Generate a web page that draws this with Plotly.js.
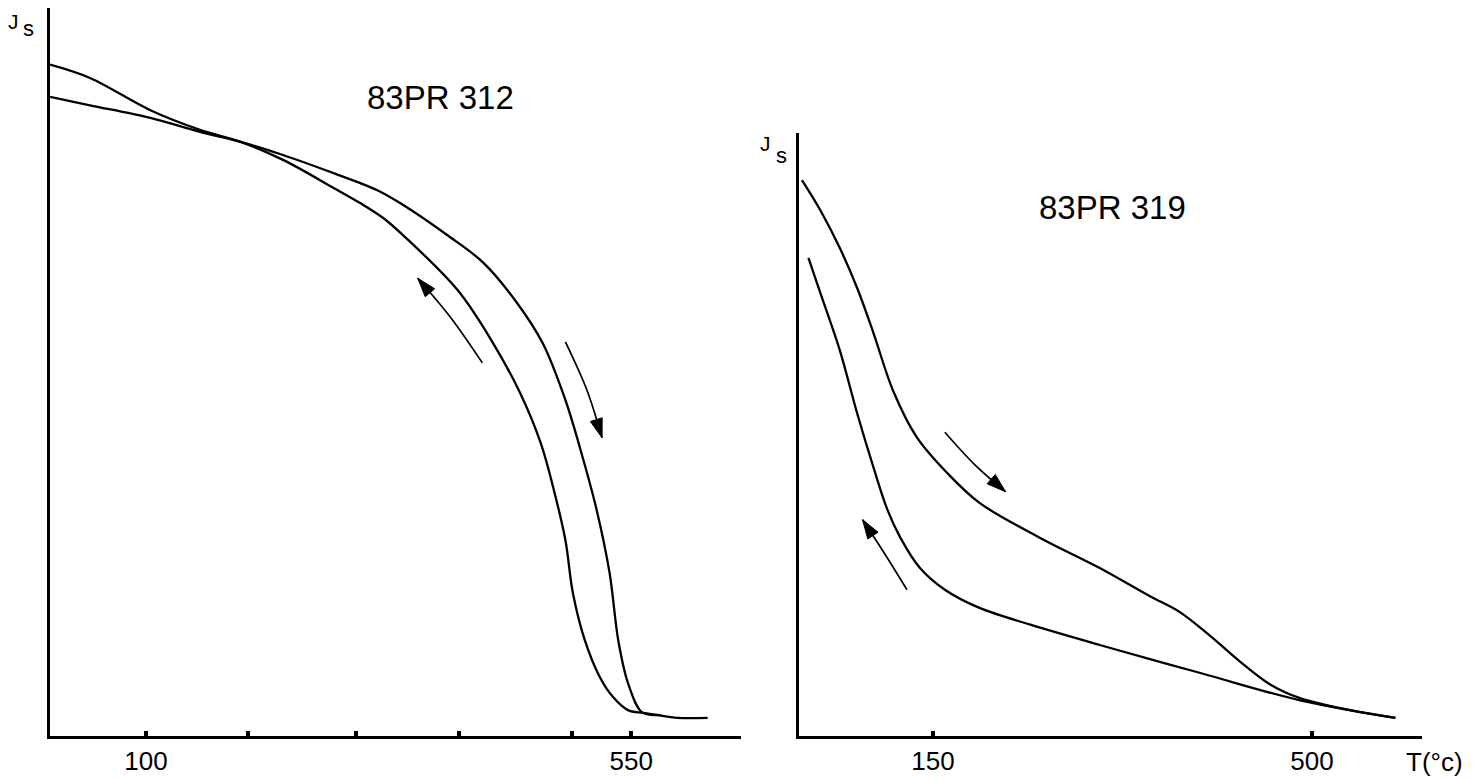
<!DOCTYPE html>
<html>
<head>
<meta charset="utf-8">
<script src="https://cdn.plot.ly/plotly-3.0.1.min.js"></script>
<style>html,body{margin:0;padding:0;background:#fff;}#chart{width:1482px;height:780px;}</style>
</head>
<body>
<div id="chart"></div>
<script>
// ---- Panel 1: 83PR 312 (T in °C, Js arbitrary units) ----
const p1_curveA_T  = [11, 48, 104, 150, 187, 227, 274, 299, 320, 338, 389, 422, 447, 466, 479, 489, 496, 507, 521, 533, 547, 561, 574, 593, 621];
const p1_curveA_Js = [95.9, 94.0, 89.4, 86.6, 84.9, 82.3, 78.3, 76.1, 74.0, 71.6, 63.7, 56.1, 49.0, 41.9, 34.7, 28.0, 20.4, 13.7, 8.4, 5.6, 3.7, 3.3, 3.0, 2.6, 2.6];
const p1_curveB_T  = [11, 48, 104, 150, 187, 227, 274, 314, 336, 379, 413, 444, 468, 489, 503, 518, 530, 538, 547, 560, 574];
const p1_curveB_Js = [91.3, 90.1, 88.3, 86.3, 84.9, 83.0, 80.4, 78.0, 76.1, 71.6, 67.6, 61.9, 56.1, 48.0, 40.9, 32.3, 23.3, 13.7, 7.6, 3.4, 3.0];
const p1_arrowCool_T  = [412, 382, 352];
const p1_arrowCool_Js = [53.3, 59.9, 65.4];
const p1_arrowHeat_T  = [489, 509, 523];
const p1_arrowHeat_Js = [56.3, 49.4, 42.6];
const p1_tickVals = [100, 195, 295, 390, 495, 550];
const p1_tickText = ["100", "", "", "", "", "550"];

// ---- Panel 2: 83PR 319 ----
const p2_curveC_T  = [29, 46, 64, 80, 95, 113, 135, 163, 193, 249, 304, 350, 378, 406, 433, 461, 489, 535, 577];
const p2_curveC_Js = [79.4, 75.1, 69.7, 64.0, 57.6, 49.4, 42.7, 37.6, 33.3, 28.3, 24.0, 20.0, 17.7, 14.3, 10.7, 7.4, 5.4, 3.7, 2.6];
const p2_curveD_T  = [35, 46, 64, 80, 95, 108, 120, 138, 161, 193, 240, 304, 397, 489, 577];
const p2_curveD_Js = [68.3, 63.3, 55.1, 46.1, 38.4, 32.3, 28.3, 24.0, 20.9, 18.3, 15.9, 13.0, 9.0, 5.1, 2.6];
const p2_arrowHeat_T  = [161, 189, 217];
const p2_arrowHeat_Js = [43.4, 38.7, 34.9];
const p2_arrowCool_T  = [126, 106, 85];
const p2_arrowCool_Js = [20.9, 25.9, 30.9];
const p2_tickVals = [150, 500];
const p2_tickText = ["150", "500"];

const FONT = "Liberation Sans, Arial, Helvetica, sans-serif";

function curve(x, y, xa, ya) {
  return {x: x, y: y, xaxis: xa, yaxis: ya, mode: "lines", type: "scatter",
          line: {color: "#000", width: 2.3, shape: "spline", smoothing: 1},
          hoverinfo: "skip", showlegend: false, cliponaxis: false};
}
function arrow(x, y, xa, ya) {
  const sizes = x.map((_, i) => i === x.length - 1 ? 20 : 0);
  return {x: x, y: y, xaxis: xa, yaxis: ya, mode: "lines+markers", type: "scatter",
          line: {color: "#000", width: 1.7, shape: "spline"},
          marker: {symbol: "arrow", angleref: "previous", size: sizes, color: "#000",
                   opacity: 1, line: {width: 1, color: "#000"}},
          hoverinfo: "skip", showlegend: false, cliponaxis: false};
}

const data = [
  curve(p1_curveA_T, p1_curveA_Js, "x", "y"),
  curve(p1_curveB_T, p1_curveB_Js, "x", "y"),
  arrow(p1_arrowCool_T, p1_arrowCool_Js, "x", "y"),
  arrow(p1_arrowHeat_T, p1_arrowHeat_Js, "x", "y"),
  curve(p2_curveC_T, p2_curveC_Js, "x2", "y2"),
  curve(p2_curveD_T, p2_curveD_Js, "x2", "y2"),
  arrow(p2_arrowHeat_T, p2_arrowHeat_Js, "x2", "y2"),
  arrow(p2_arrowCool_T, p2_arrowCool_Js, "x2", "y2")
];

const W = 1482, H = 780;
const axisCommon = {showgrid: false, zeroline: false, showline: true, linecolor: "#000",
                    tickfont: {family: FONT, size: 26, color: "#000"}};

function label(text, px, py, size) {
  return {text: text, xref: "paper", yref: "paper", x: px / W, y: 1 - py / H,
          xanchor: "center", yanchor: "middle", showarrow: false,
          font: {family: FONT, size: size, color: "#000"}};
}

const layout = {
  width: W, height: H,
  margin: {l: 0, r: 0, t: 0, b: 0},
  paper_bgcolor: "#fff", plot_bgcolor: "rgba(0,0,0,0)",
  font: {family: FONT, color: "#000"},
  showlegend: false,
  xaxis: Object.assign({}, axisCommon, {
    domain: [50 / W, 741 / W], range: [10.9, 651.9], linewidth: 3,
    tickmode: "array", tickvals: p1_tickVals, ticktext: p1_tickText,
    ticks: "inside", ticklen: 5, tickwidth: 4, tickcolor: "#000",
    anchor: "y"
  }),
  yaxis: Object.assign({}, axisCommon, {
    domain: [1 - 736 / H, 1 - 8 / H], range: [0, 104], linewidth: 3.5,
    showticklabels: false, ticks: "", anchor: "x"
  }),
  xaxis2: Object.assign({}, axisCommon, {
    domain: [799 / W, 1422 / W], range: [26.3, 601.6], linewidth: 3,
    tickmode: "array", tickvals: p2_tickVals, ticktext: p2_tickText,
    ticks: "inside", ticklen: 5, tickwidth: 4, tickcolor: "#000",
    anchor: "y2"
  }),
  yaxis2: Object.assign({}, axisCommon, {
    domain: [1 - 736 / H, 1 - 133 / H], range: [0, 86.14], linewidth: 3.5,
    showticklabels: false, ticks: "", anchor: "x2"
  }),
  annotations: [
    label("83PR 312", 441, 97, 33),
    label("83PR 319", 1112, 208, 33),
    label("J", 13, 21, 21),
    label("s", 28, 29, 22),
    label("J", 765, 143, 21),
    label("s", 781, 156, 22),
    label("T(°c)", 1434, 762, 26)
  ]
};

Plotly.newPlot("chart", data, layout, {staticPlot: true, displayModeBar: false});
</script>
</body>
</html>
